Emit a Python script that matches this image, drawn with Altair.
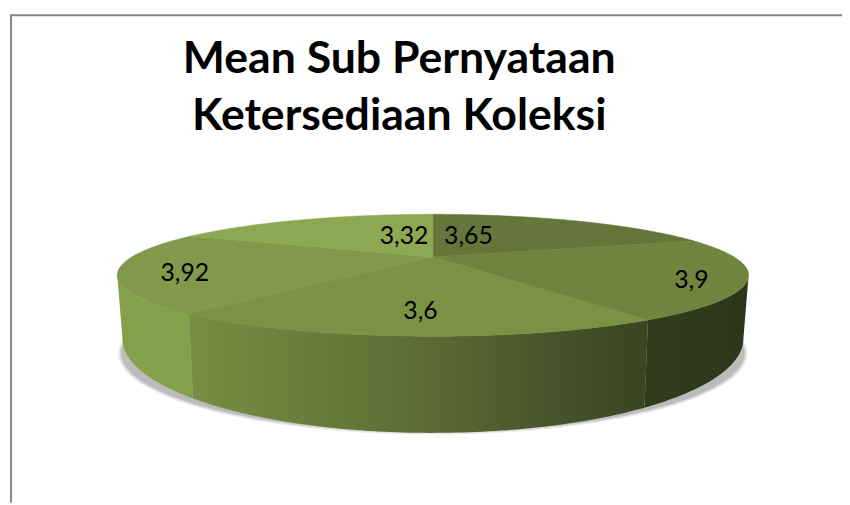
import math
import altair as alt
import pandas as pd

# --- values ---
labels = ["3,65", "3,9", "3,6", "3,92", "3,32"]
values = [3.65, 3.9, 3.6, 3.92, 3.32]
top_colors = ["#66763A", "#6F843D", "#799244", "#81994A", "#8DA852"]
title_lines = ["Mean Sub Pernyataan", "Ketersediaan Koleksi"]

# --- layout ---
W, H = 842, 497
MARGIN = 8
CX = 437
TOP = dict(a=304, b=56, y0=257)       # top disc
BOT = dict(a=299, b=86.5, y0=311)     # bottom disc
P = 0.30                              # perspective strength
TIP_R, TIP_L = 107.5, 252.5           # silhouette angles
label_r = [0.2, 0.82, 0.75, 0.8, 0.2]
label_dx = [2, 5, 3, 0, 2]
label_dy = [-12, 6, 0, 5, -12]


def project(theta, disc, r=1.0):
    t = math.radians(theta)
    u, v = r * math.sin(t), r * math.cos(t)
    w = 1 + P * v
    return (CX + disc["a"] * u / w - MARGIN, disc["y0"] - disc["b"] * v / w - MARGIN)


def arc(a, b, disc, n=80):
    return [project(a + (b - a) * i / n, disc) for i in range(n + 1)]


def feature(pts):
    ring = [list(p) for p in pts]
    ring.append(ring[0])
    return {"type": "Feature", "properties": {}, "geometry": {"type": "Polygon", "coordinates": [ring]}}


def shape(pts, fill, **kw):
    stroke = fill if isinstance(fill, str) else None
    mk = dict(fill=fill, strokeWidth=0.6 if stroke else 0)
    if stroke:
        mk["stroke"] = stroke
    mk.update(kw)
    return alt.Chart(alt.Data(values=[feature(pts)])).mark_geoshape(**mk).project(
        type="identity", scale=1, translate=[0, 0]
    )


def grad(stops):
    return alt.Gradient(
        gradient="linear", x1=0, x2=1, y1=0, y2=0,
        stops=[alt.GradientStop(offset=o, color=c) for o, c in stops],
    )


# slice boundaries from the values
total = sum(values)
edges = [0.0]
for v in values:
    edges.append(edges[-1] + v / total * 360)

layers = []

# frame
layers.append(alt.Chart(pd.DataFrame({"k": [0]})).mark_rule(color="#868686", strokeWidth=2).encode(
    x=alt.value(3), y=alt.value(5), y2=alt.value(H)))
layers.append(alt.Chart(pd.DataFrame({"k": [0]})).mark_rule(color="#868686", strokeWidth=2).encode(
    x=alt.value(2), x2=alt.value(W), y=alt.value(5)))

# soft shadow under the disc
for grow, op in [(4, 0.15), (2.5, 0.22), (1, 0.3)]:
    d = dict(a=299 + grow, b=72 + grow * 0.6, y0=330)
    layers.append(shape(arc(0, 360, d, 160), "#808080", opacity=op, strokeWidth=0))

# wall
walls = [
    (edges[3], TIP_L, grad([(0, "#84A04B"), (1, "#83A04B")])),
    (edges[2], edges[3], grad([(0, "#768F42"), (0.535, "#5B6B33"), (0.8, "#47532A"), (1, "#3A4521")])),
    (TIP_R, edges[2], grad([(0, "#323D1D"), (1, "#2C361A")])),
]
for a, b, g in walls:
    layers.append(shape(arc(a, b, TOP) + arc(b, a, BOT), g))

# top slices
apex = project(0, TOP, 0)
for i, c in enumerate(top_colors):
    layers.append(shape([apex] + arc(edges[i], edges[i + 1], TOP), c))

# value labels
rows = []
for i, t in enumerate(labels):
    mid = (edges[i] + edges[i + 1]) / 2
    x, y = project(mid, TOP, label_r[i])
    rows.append({"t": t, "x": x + label_dx[i], "y": y + label_dy[i]})
layers.append(alt.Chart(pd.DataFrame(rows)).mark_text(
    font="Lato", fontSize=25, color="#000000", align="center", baseline="middle"
).encode(
    x=alt.X("x:Q", scale=None, axis=None), y=alt.Y("y:Q", scale=None, axis=None), text="t:N"))

# title
for i, line in enumerate(title_lines):
    layers.append(alt.Chart(pd.DataFrame({"t": [line]})).mark_text(
        font="Lato", fontSize=45, fontWeight="bold", color="#000000", align="center", baseline="alphabetic"
    ).encode(x=alt.value(395), y=alt.value(63 + i * 58), text="t:N"))

chart = alt.layer(*layers).properties(
    width=W, height=H, padding=0, autosize=alt.AutoSizeParams(type="none"), background="white"
).configure_view(stroke=None)

chart.save("out.html", embed_options={"renderer": "svg", "actions": False})
